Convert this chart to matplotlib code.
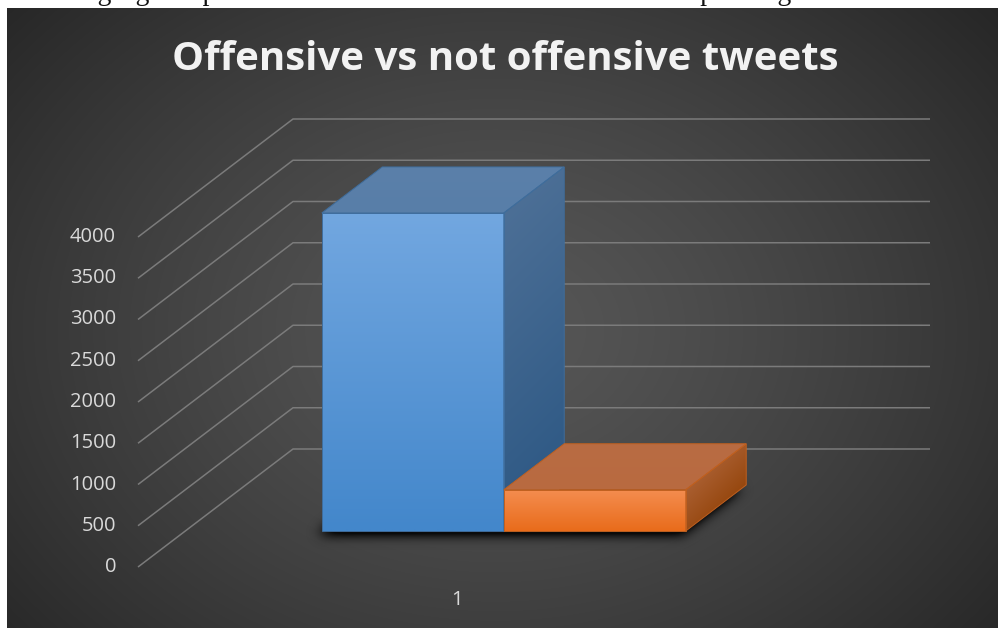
import numpy as np
import matplotlib
matplotlib.use("Agg")
import matplotlib.pyplot as plt
from matplotlib.patches import Polygon
from matplotlib.path import Path

# ---------------- data ----------------
title = "Offensive vs not offensive tweets"
categories = ["1"]
series_names = ["Offensive", "Not offensive"]
values = [3855, 500]
y_ticks = [0, 500, 1000, 1500, 2000, 2500, 3000, 3500, 4000]
y_tick_labels = [str(t) for t in y_ticks]
page_text = "owing figures present the dataset to each task and its corresponding subtask"

# ---------------- layout ----------------
W, H, DPI = 998, 628, 100
PX_X = 637.0            # pixels per category unit
PX_V = 330.0 / 4000.0   # pixels per value unit
ORG = (138.0, 567.0)    # pixel position of front-left floor corner
DEPTH_PX = (155.0, 118.0)
DX = DEPTH_PX[0] / PX_X
DY = DEPTH_PX[1] / PX_V
GAP = 1.5
D0, D1 = 0.305, 0.695   # bar depth range

fig = plt.figure(figsize=(W / DPI, H / DPI), dpi=DPI)
ax = fig.add_axes([0, 0, 1, 1])
xlim = (-ORG[0] / PX_X, (W - ORG[0]) / PX_X)
ylim = (-(H - ORG[1]) / PX_V, ORG[1] / PX_V)
ax.set_xlim(*xlim)
ax.set_ylim(*ylim)
ax.axis("off")


def P(x, v, d):
    return (x + d * DX, v + d * DY)


# ---------------- background ----------------
yy, xx = np.mgrid[0:H, 0:W].astype(float)
r = np.sqrt(((xx - 495) / 560) ** 2 + ((yy - 330) / 430) ** 2)
val = 0.34 - 0.19 * np.clip(r / 1.17, 0, 1) ** 1.3
bg = np.dstack([val, val, val])
bg[:8, :, :] = 1.0
bg[:, :7, :] = 1.0
ax.imshow(bg, extent=(xlim[0], xlim[1], ylim[0], ylim[1]), origin="upper",
          aspect="auto", zorder=0, interpolation="bilinear")

# ---------------- grid (floor diagonals + back wall) ----------------
for t in y_ticks:
    a = P(0, t, 0)
    b = P(0, t, 1)
    c = P(1, t, 1)
    ax.plot([a[0], b[0], c[0]], [a[1], b[1], c[1]], color="#7b7b7b",
            lw=1.1, zorder=1, solid_capstyle="butt")

for t, lab in zip(y_ticks, y_tick_labels):
    ax.annotate(lab, xy=P(0, t, 0), xytext=(-22 * 72 / DPI, 0),
                textcoords="offset points", ha="right", va="center",
                color="#d9d9d9", fontsize=14.5, family="Open Sans")

ax.annotate(categories[0], xy=P(0.5, 0, 0), xytext=(0, -33 * 72 / DPI),
            textcoords="offset points", ha="center", va="center",
            color="#d9d9d9", fontsize=14.5, family="Open Sans")

# ---------------- bars geometry ----------------
n = len(values)
bw = 1.0 / (n + GAP)
x_start = GAP / 2 * bw
bars = []
for i, v in enumerate(values):
    x0 = x_start + i * bw
    bars.append((x0, x0 + bw, v))

# ---------------- shadow ----------------
foot = [P(bars[0][0], 0, D0), P(bars[-1][1], 0, D0),
        P(bars[-1][1], 0, D1), P(bars[0][0], 0, D1)]
gx = xlim[0] + (xx + 0.5) / W * (xlim[1] - xlim[0])
gy = ylim[1] - (yy + 0.5) / H * (ylim[1] - ylim[0])
pts = np.column_stack([gx.ravel() + 4 / PX_X, gy.ravel() + 3 / PX_V])
mask = Path(foot).contains_points(pts).reshape(H, W).astype(float)
sig = 6.0
k = np.arange(-18, 19)
kern = np.exp(-k ** 2 / (2 * sig ** 2))
kern /= kern.sum()
blur = np.apply_along_axis(lambda m: np.convolve(m, kern, mode="same"), 1, mask)
blur = np.apply_along_axis(lambda m: np.convolve(m, kern, mode="same"), 0, blur)
sh = np.zeros((H, W, 4))
sh[..., 3] = np.clip(blur * 1.6, 0, 0.85)
ax.imshow(sh, extent=(xlim[0], xlim[1], ylim[0], ylim[1]), origin="upper",
          aspect="auto", zorder=2, interpolation="bilinear")


# ---------------- gradient face helper ----------------
def hex2rgb(h):
    h = h.lstrip("#")
    return np.array([int(h[i:i + 2], 16) / 255 for i in (0, 2, 4)])


def face(verts, c0, c1, vec, z, edge):
    verts = np.array(verts)
    poly = Polygon(verts, closed=True, facecolor="none", edgecolor=edge,
                   lw=0.7, zorder=z + 0.5)
    ax.add_patch(poly)
    xmin, xmax = verts[:, 0].min(), verts[:, 0].max()
    vmin, vmax = verts[:, 1].min(), verts[:, 1].max()
    ny, nx = 80, 80
    gxs = np.linspace(xmin, xmax, nx) * PX_X
    gys = np.linspace(vmin, vmax, ny) * PX_V
    GX, GY = np.meshgrid(gxs, gys)
    vv = np.array(vec, float)
    vv /= np.linalg.norm(vv)
    proj = GX * vv[0] + GY * vv[1]
    pv = verts[:, 0] * PX_X * vv[0] + verts[:, 1] * PX_V * vv[1]
    tt = np.clip((proj - pv.min()) / (pv.max() - pv.min()), 0, 1)
    a, b = hex2rgb(c0), hex2rgb(c1)
    img = a[None, None, :] * (1 - tt[..., None]) + b[None, None, :] * tt[..., None]
    im = ax.imshow(img, extent=(xmin, xmax, vmin, vmax), origin="lower",
                   aspect="auto", zorder=z, interpolation="bilinear")
    im.set_clip_path(poly)


styles = [
    dict(front=("#72a7e0", "#4387cb"), top=("#5b80aa", "#587ea8"),
         side=("#4c6f96", "#2d5884"), edge="#3f6d9c"),
    dict(front=("#f48d50", "#e96c1b"), top=("#b96c43", "#b86a40"),
         side=("#a95e30", "#96470e"), edge="#c0601f"),
]

for i, ((x0, x1, v), st) in enumerate(zip(bars, styles)):
    z = 3 + i
    front = [P(x0, 0, D0), P(x1, 0, D0), P(x1, v, D0), P(x0, v, D0)]
    top = [P(x0, v, D0), P(x1, v, D0), P(x1, v, D1), P(x0, v, D1)]
    side = [P(x1, 0, D0), P(x1, 0, D1), P(x1, v, D1), P(x1, v, D0)]
    face(side, st["side"][0], st["side"][1], (1, -1), z, st["edge"])
    face(top, st["top"][0], st["top"][1], (0, -1), z, st["edge"])
    face(front, st["front"][0], st["front"][1], (0, -1), z, st["edge"])

# ---------------- title ----------------
ax.text(0.506, 1 - 70 / H, title, transform=ax.transAxes, ha="center",
        va="baseline", color="#f2f2f2", fontsize=29, fontweight="bold",
        family="Open Sans", zorder=10)

fig.text(42 / W, 1 + 0.5 / H, page_text, ha="left", va="baseline",
         color="#111111", fontsize=20, family="Liberation Serif")

fig.savefig("out.png", dpi=DPI)
